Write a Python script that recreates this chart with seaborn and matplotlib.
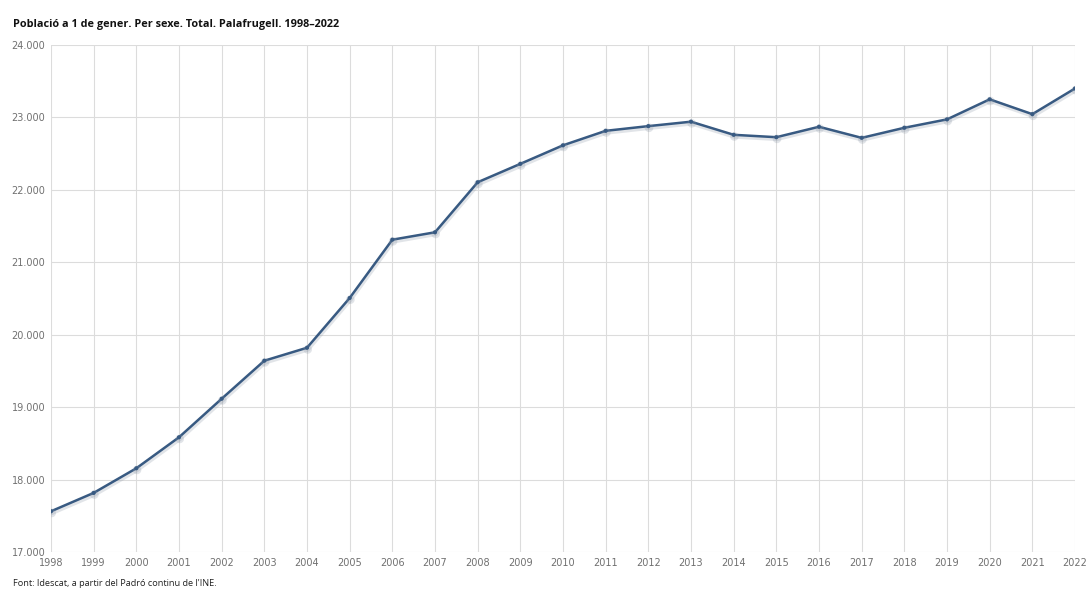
import matplotlib
matplotlib.use("Agg")
import matplotlib.pyplot as plt
import matplotlib.patheffects as pe
from matplotlib.ticker import FuncFormatter, FixedLocator
import seaborn as sns
import pandas as pd

years = list(range(1998, 2023))
population = [17562, 17816, 18156, 18584, 19116, 19641, 19820, 20507, 21312, 21414,
              22105, 22359, 22615, 22815, 22880, 22941, 22760, 22727, 22871, 22718,
              22857, 22973, 23250, 23045, 23400]
y_ticks = [17000, 18000, 19000, 20000, 21000, 22000, 23000, 24000]
title = "Població a 1 de gener. Per sexe. Total. Palafrugell. 1998–2022"
source = "Font: Idescat, a partir del Padró continu de l'INE."

sns.set_theme(style="white")
plt.rcParams['font.family'] = ['DejaVu Sans']

df = pd.DataFrame({"year": years, "population": population})

fig = plt.figure(figsize=(10.89, 5.97), dpi=100)
ax = fig.add_axes([51/1089, 45/597, 1024/1089, 507/597])

line_color = "#385a82"
sns.lineplot(data=df, x="year", y="population", ax=ax, color=line_color,
             linewidth=1.8, marker="o", markersize=3.0, markeredgewidth=0,
             zorder=5)
for ln in ax.get_lines():
    ln.set_path_effects([pe.SimpleLineShadow(offset=(0.5, -1.2), shadow_color="#8a96a6", alpha=0.25, linewidth=3.2),
                         pe.Normal()])

ax.set_xlim(1998, 2022)
ax.set_ylim(17000, 24000)
ax.xaxis.set_major_locator(FixedLocator(years))
ax.yaxis.set_major_locator(FixedLocator(y_ticks))
ax.yaxis.set_major_formatter(FuncFormatter(lambda v, p: f"{int(v):,}".replace(",", ".")))
ax.grid(True, color="#dcdcdc", linewidth=0.8)
ax.set_axisbelow(True)
for s in ax.spines.values():
    s.set_visible(False)
ax.tick_params(axis="both", length=0, labelsize=7, colors="#707070")
ax.tick_params(axis="x", pad=4)
ax.tick_params(axis="y", pad=4)
ax.set_xlabel("")
ax.set_ylabel("")

fig.text(13/1089, 1 - 25/597, title, fontsize=7.8, fontweight="bold", color="#111111",
         ha="left", va="center", family=["Open Sans", "DejaVu Sans"])
fig.text(13/1089, 1 - 584/597, source, fontsize=6.6, color="#222222", ha="left", va="center",
         family=["Open Sans", "DejaVu Sans"])

fig.savefig("out.png", dpi=100, facecolor="white")
